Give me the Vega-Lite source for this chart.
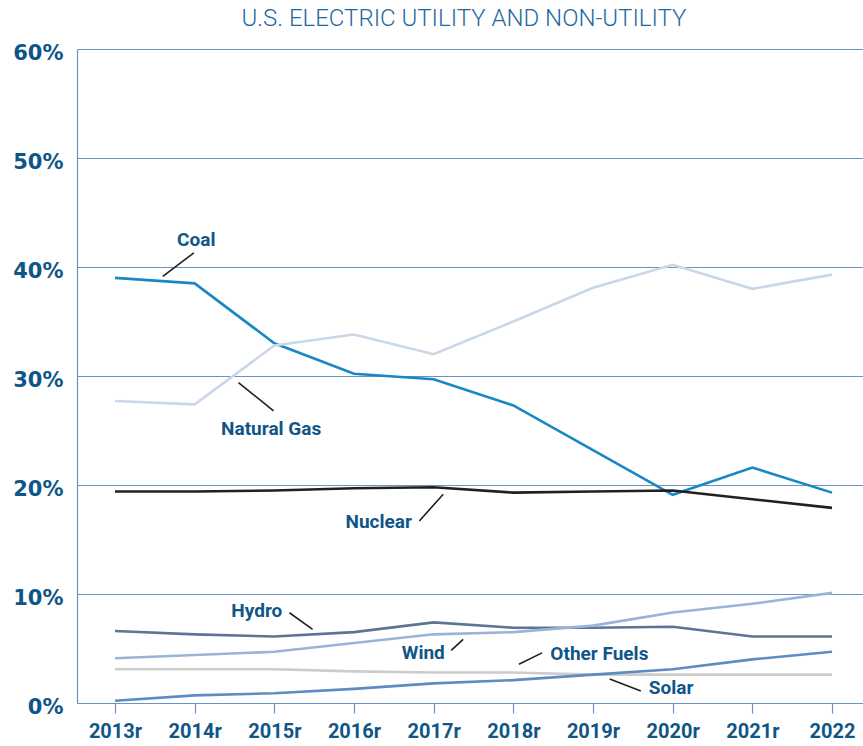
{
  "$schema": "https://vega.github.io/schema/vega-lite/v6.json",
  "autosize": "none",
  "width": 786,
  "height": 654,
  "padding": {"left": 77, "top": 49, "right": 0, "bottom": 43},
  "background": "white",
  "config": {"view": {"stroke": null}},
  "title": {
    "text": "U.S. ELECTRIC UTILITY AND NON-UTILITY",
    "font": "Roboto",
    "fontSize": 24,
    "fontWeight": 300,
    "color": "#1f68a2",
    "anchor": "middle",
    "frame": "group",
    "dx": -6,
    "offset": 11
  },
  "datasets": {
    "series": [
      {"year": 2013, "source": "Coal", "value": 39.0},
      {"year": 2014, "source": "Coal", "value": 38.5},
      {"year": 2015, "source": "Coal", "value": 33.0},
      {"year": 2016, "source": "Coal", "value": 30.2},
      {"year": 2017, "source": "Coal", "value": 29.7},
      {"year": 2018, "source": "Coal", "value": 27.3},
      {"year": 2019, "source": "Coal", "value": 23.2},
      {"year": 2020, "source": "Coal", "value": 19.1},
      {"year": 2021, "source": "Coal", "value": 21.6},
      {"year": 2022, "source": "Coal", "value": 19.3},
      {"year": 2013, "source": "Natural Gas", "value": 27.7},
      {"year": 2014, "source": "Natural Gas", "value": 27.4},
      {"year": 2015, "source": "Natural Gas", "value": 32.8},
      {"year": 2016, "source": "Natural Gas", "value": 33.8},
      {"year": 2017, "source": "Natural Gas", "value": 32.0},
      {"year": 2018, "source": "Natural Gas", "value": 35.0},
      {"year": 2019, "source": "Natural Gas", "value": 38.1},
      {"year": 2020, "source": "Natural Gas", "value": 40.2},
      {"year": 2021, "source": "Natural Gas", "value": 38.0},
      {"year": 2022, "source": "Natural Gas", "value": 39.3},
      {"year": 2013, "source": "Nuclear", "value": 19.4},
      {"year": 2014, "source": "Nuclear", "value": 19.4},
      {"year": 2015, "source": "Nuclear", "value": 19.5},
      {"year": 2016, "source": "Nuclear", "value": 19.7},
      {"year": 2017, "source": "Nuclear", "value": 19.8},
      {"year": 2018, "source": "Nuclear", "value": 19.3},
      {"year": 2019, "source": "Nuclear", "value": 19.4},
      {"year": 2020, "source": "Nuclear", "value": 19.5},
      {"year": 2021, "source": "Nuclear", "value": 18.7},
      {"year": 2022, "source": "Nuclear", "value": 17.9},
      {"year": 2013, "source": "Hydro", "value": 6.6},
      {"year": 2014, "source": "Hydro", "value": 6.3},
      {"year": 2015, "source": "Hydro", "value": 6.1},
      {"year": 2016, "source": "Hydro", "value": 6.5},
      {"year": 2017, "source": "Hydro", "value": 7.4},
      {"year": 2018, "source": "Hydro", "value": 6.9},
      {"year": 2019, "source": "Hydro", "value": 6.9},
      {"year": 2020, "source": "Hydro", "value": 7.0},
      {"year": 2021, "source": "Hydro", "value": 6.1},
      {"year": 2022, "source": "Hydro", "value": 6.1},
      {"year": 2013, "source": "Wind", "value": 4.1},
      {"year": 2014, "source": "Wind", "value": 4.4},
      {"year": 2015, "source": "Wind", "value": 4.7},
      {"year": 2016, "source": "Wind", "value": 5.5},
      {"year": 2017, "source": "Wind", "value": 6.3},
      {"year": 2018, "source": "Wind", "value": 6.5},
      {"year": 2019, "source": "Wind", "value": 7.1},
      {"year": 2020, "source": "Wind", "value": 8.3},
      {"year": 2021, "source": "Wind", "value": 9.1},
      {"year": 2022, "source": "Wind", "value": 10.1},
      {"year": 2013, "source": "Other Fuels", "value": 3.1},
      {"year": 2014, "source": "Other Fuels", "value": 3.1},
      {"year": 2015, "source": "Other Fuels", "value": 3.1},
      {"year": 2016, "source": "Other Fuels", "value": 2.9},
      {"year": 2017, "source": "Other Fuels", "value": 2.8},
      {"year": 2018, "source": "Other Fuels", "value": 2.8},
      {"year": 2019, "source": "Other Fuels", "value": 2.6},
      {"year": 2020, "source": "Other Fuels", "value": 2.6},
      {"year": 2021, "source": "Other Fuels", "value": 2.6},
      {"year": 2022, "source": "Other Fuels", "value": 2.6},
      {"year": 2013, "source": "Solar", "value": 0.2},
      {"year": 2014, "source": "Solar", "value": 0.7},
      {"year": 2015, "source": "Solar", "value": 0.9},
      {"year": 2016, "source": "Solar", "value": 1.3},
      {"year": 2017, "source": "Solar", "value": 1.8},
      {"year": 2018, "source": "Solar", "value": 2.1},
      {"year": 2019, "source": "Solar", "value": 2.6},
      {"year": 2020, "source": "Solar", "value": 3.1},
      {"year": 2021, "source": "Solar", "value": 4.0},
      {"year": 2022, "source": "Solar", "value": 4.7}
    ],
    "notes": [
      {"label": "Coal", "lx": 2014.02, "ly": 42.5, "x1": 2013.60, "y1": 39.15, "x2": 2013.99, "y2": 41.3},
      {"label": "Natural Gas", "lx": 2014.96, "ly": 25.1, "x1": 2014.55, "y1": 29.4, "x2": 2014.99, "y2": 26.8},
      {"label": "Nuclear", "lx": 2016.31, "ly": 16.6, "x1": 2016.82, "y1": 16.7, "x2": 2017.12, "y2": 19.15},
      {"label": "Hydro", "lx": 2014.78, "ly": 8.45, "x1": 2015.19, "y1": 8.28, "x2": 2015.48, "y2": 6.75},
      {"label": "Wind", "lx": 2016.87, "ly": 4.56, "x1": 2017.22, "y1": 4.83, "x2": 2017.37, "y2": 5.83},
      {"label": "Other Fuels", "lx": 2019.08, "ly": 4.5, "x1": 2018.07, "y1": 3.55, "x2": 2018.36, "y2": 4.6},
      {"label": "Solar", "lx": 2019.98, "ly": 1.35, "x1": 2019.21, "y1": 2.2, "x2": 2019.60, "y2": 1.1}
    ]
  },
  "layer": [
    {
      "data": {"name": "series"},
      "mark": {"type": "line", "strokeWidth": 2.6, "strokeJoin": "miter"},
      "encoding": {
        "x": {
          "field": "year",
          "type": "quantitative",
          "scale": {"domain": [2012.523, 2022.389], "nice": false, "zero": false},
          "axis": {
            "title": null,
            "values": [2013, 2014, 2015, 2016, 2017, 2018, 2019, 2020, 2021, 2022],
            "labelExpr": "datum.value == 2022 ? '2022' : datum.value + 'r'",
            "grid": false,
            "domainColor": "#6d93c4",
            "domainWidth": 1.2,
            "tickColor": "#6d93c4",
            "tickSize": 10,
            "tickWidth": 1.2,
            "labelFont": "Roboto",
            "labelFontSize": 20,
            "labelFontWeight": "bold",
            "labelColor": "#0f5688",
            "labelPadding": 8,
            "labelFlush": false,
            "labelOverlap": false
          }
        },
        "y": {
          "field": "value",
          "type": "quantitative",
          "scale": {"domain": [0, 60], "nice": false},
          "axis": {
            "title": null,
            "values": [0, 10, 20, 30, 40, 50, 60],
            "labelExpr": "datum.value + '%'",
            "grid": true,
            "gridColor": "#6d93c4",
            "gridWidth": 1.2,
            "domainColor": "#6d93c4",
            "domainWidth": 1.2,
            "ticks": false,
            "labelFont": "DejaVu Sans",
            "labelFontSize": 21,
            "labelFontWeight": "bold",
            "labelColor": "#0f5688",
            "labelPadding": 14,
            "labelOffset": 4
          }
        },
        "color": {
          "field": "source",
          "type": "nominal",
          "scale": {
            "domain": ["Coal", "Natural Gas", "Nuclear", "Hydro", "Wind", "Other Fuels", "Solar"],
            "range": ["#1888c4", "#c9d7e9", "#231f20", "#5e7495", "#9ab4d8", "#cccccc", "#5d8cc2"]
          },
          "legend": null
        },
        "order": {"field": "source"},
        "detail": {"field": "source"}
      }
    },
    {
      "data": {"name": "notes"},
      "mark": {"type": "rule", "color": "#231f20", "strokeWidth": 1.6},
      "encoding": {
        "x": {"field": "x1", "type": "quantitative"},
        "y": {"field": "y1", "type": "quantitative"},
        "x2": {"field": "x2"},
        "y2": {"field": "y2"}
      }
    },
    {
      "data": {"name": "notes"},
      "mark": {
        "type": "text",
        "font": "Roboto",
        "fontSize": 19,
        "fontWeight": "bold",
        "color": "#0f5688",
        "align": "center",
        "baseline": "middle"
      },
      "encoding": {
        "x": {"field": "lx", "type": "quantitative"},
        "y": {"field": "ly", "type": "quantitative"},
        "text": {"field": "label"}
      }
    }
  ]
}
